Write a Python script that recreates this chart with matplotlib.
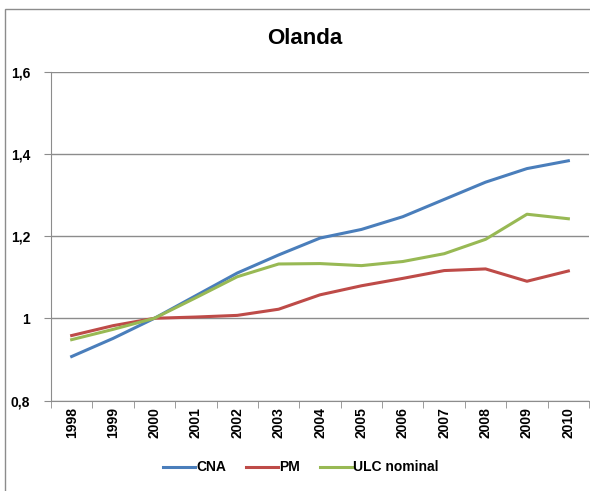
import matplotlib
matplotlib.use('Agg')
import matplotlib.pyplot as plt
from matplotlib.ticker import FuncFormatter, FixedLocator
from matplotlib.patches import Rectangle

# Values
years = ['1998', '1999', '2000', '2001', '2002', '2003', '2004',
         '2005', '2006', '2007', '2008', '2009', '2010']
cna = [0.907, 0.951, 1.000, 1.055, 1.110, 1.154, 1.195,
       1.216, 1.247, 1.289, 1.331, 1.364, 1.383]
pm = [0.958, 0.982, 1.000, 1.003, 1.007, 1.022, 1.057,
      1.079, 1.097, 1.116, 1.120, 1.090, 1.115]
ulc = [0.948, 0.973, 1.000, 1.050, 1.101, 1.132, 1.133,
       1.128, 1.138, 1.157, 1.192, 1.253, 1.242]

plt.rcParams['font.family'] = ['Liberation Sans', 'DejaVu Sans']
plt.rcParams['font.weight'] = 'bold'

fig = plt.figure(figsize=(5.9, 4.91), dpi=100)
ax = fig.add_axes([0.0864, 0.1843, 0.912, 0.670])

x = range(len(years))
ax.plot(x, cna, color='#4A7EBB', linewidth=2.2, label='CNA')
ax.plot(x, pm, color='#BE4B48', linewidth=2.2, label='PM')
ax.plot(x, ulc, color='#98B954', linewidth=2.2, label='ULC nominal')

ax.set_xlim(-0.5, len(years) - 0.5)
ax.set_ylim(0.8, 1.6)
ax.set_yticks([0.8, 1.0, 1.2, 1.4, 1.6])
ax.yaxis.set_major_formatter(FuncFormatter(lambda v, p: f'{v:g}'.replace('.', ',')))
ax.yaxis.grid(True, color='#8c8c8c', linewidth=1)
ax.set_axisbelow(True)

ax.set_xticks(list(x))
ax.set_xticklabels(years, rotation=90, fontsize=10, fontweight='bold')
ax.xaxis.set_minor_locator(FixedLocator([i + 0.5 for i in range(-1, len(years))]))
ax.tick_params(axis='x', which='major', length=0, pad=5)
ax.tick_params(axis='x', which='minor', length=5, color='#8c8c8c')
ax.tick_params(axis='y', length=5, color='#8c8c8c', labelsize=10, pad=10)
for lbl in ax.get_yticklabels():
    lbl.set_fontweight('bold')

for s in ['top', 'right']:
    ax.spines[s].set_visible(False)
for s in ['left', 'bottom']:
    ax.spines[s].set_color('#8c8c8c')

fig.text(0.517, 0.922, 'Olanda', ha='center', va='center',
         fontsize=16, fontweight='bold')

fig.legend(loc='center', bbox_to_anchor=(0.51, 0.048), ncol=3, frameon=False,
           fontsize=10, handlelength=2.3, columnspacing=1.4, handletextpad=0.1)

# outer chart border
fig.patches.append(Rectangle((5 / 590, -0.1), 1.2, 1 - 9 / 491 + 0.1,
                             transform=fig.transFigure, fill=False,
                             edgecolor='#8c8c8c', linewidth=1))

fig.savefig('out.png', dpi=100)
